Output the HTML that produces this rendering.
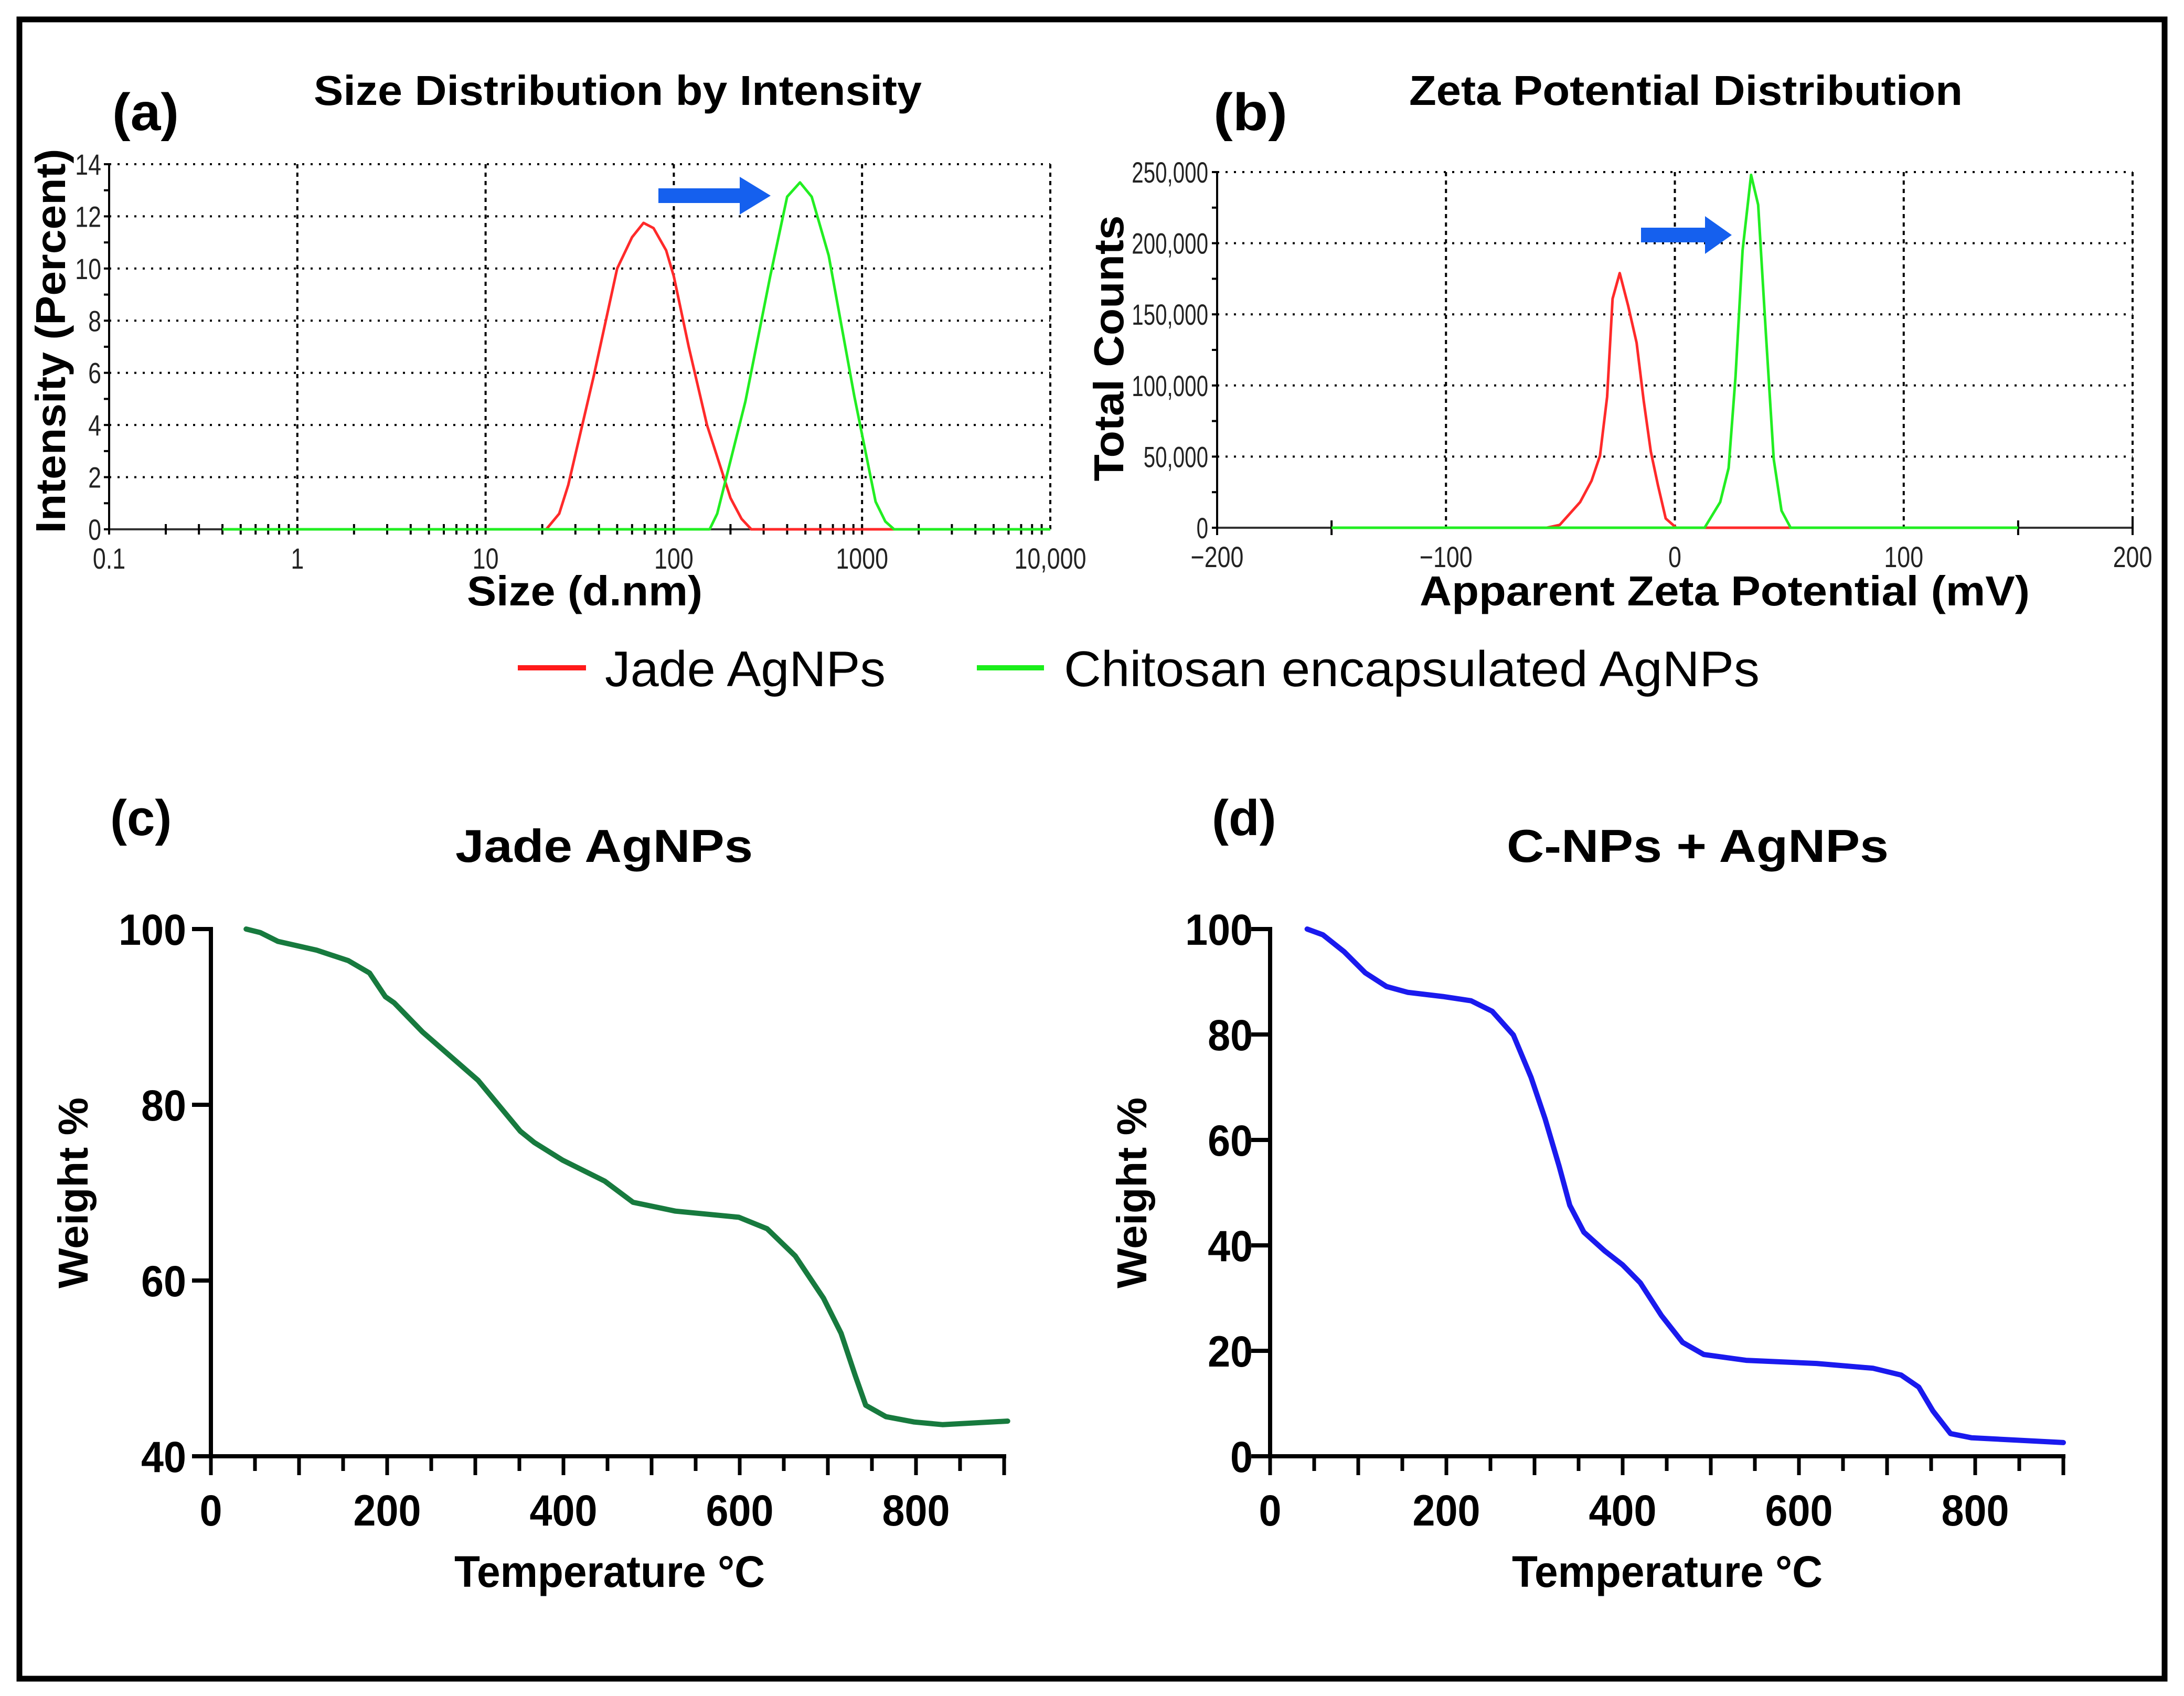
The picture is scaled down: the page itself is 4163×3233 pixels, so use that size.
<!DOCTYPE html>
<html><head><meta charset="utf-8"><style>
html,body{margin:0;padding:0;background:#fff;}
svg{display:block;}
text{font-family:"Liberation Sans",Arial,sans-serif;}
</style></head><body>
<svg id="fig" xmlns="http://www.w3.org/2000/svg" width="4163" height="3233" viewBox="0 0 4163 3233">
<rect x="0" y="0" width="4163" height="3233" fill="#fff"/>
<rect x="37" y="37" width="4089" height="3163" fill="none" stroke="#000" stroke-width="11"/>
<g id="pa"></g>
<g id="pb"></g>
<g id="pc"></g>
<g id="pd"></g>
<g>
<g>
<line x1="987" y1="1273" x2="1117" y2="1273" stroke="#ff1a1a" stroke-width="10"/>
<text x="1153" y="1308" font-size="96" textLength="535" lengthAdjust="spacingAndGlyphs">Jade AgNPs</text>
</g>
<g>
<line x1="1862" y1="1273" x2="1990" y2="1273" stroke="#1aee1a" stroke-width="10"/>
<text x="2028" y="1308" font-size="96" textLength="1326" lengthAdjust="spacingAndGlyphs">Chitosan encapsulated AgNPs</text>
</g>
</g>
</svg>
<script>
// ---- Panel (a) data: size (d.nm) vs intensity (%) ----
const aXTicks = [0.1, 1, 10, 100, 1000, 10000];
const aXTickLabels = ["0.1", "1", "10", "100", "1000", "10,000"];
const aYTicks = [0, 2, 4, 6, 8, 10, 12, 14];
const aJadeSize = [0.4, 21, 24.6, 27.5, 37.6, 50, 60, 69, 78, 91, 100, 120, 150, 200, 229, 258, 1500];
const aJadeInt  = [0, 0, 0.6, 1.7, 5.9, 10.0, 11.2, 11.75, 11.55, 10.7, 9.7, 7.0, 4.0, 1.2, 0.4, 0, 0];
const aChitSize = [0.4, 155, 170, 240, 325, 400, 468, 540, 665, 910, 1180, 1330, 1480, 10000];
const aChitInt  = [0, 0, 0.6, 4.9, 9.7, 12.75, 13.3, 12.75, 10.5, 5.1, 1.06, 0.3, 0, 0];
// ---- Panel (b) data: zeta potential (mV) vs total counts ----
const bXTicks = [-200, -100, 0, 100, 200];
const bXTickLabels = ["\u2212200", "\u2212100", "0", "100", "200"];
const bYTicks = [0, 50000, 100000, 150000, 200000, 250000];
const bYTickLabels = ["0", "50,000", "100,000", "150,000", "200,000", "250,000"];
const bJadeMv = [-150, -55.9, -50.3, -41.4, -36.4, -32.7, -29.6, -27.2, -24.1, -20.4, -16.7, -13.6, -10.5, -7.4, -4, 0.6, 52];
const bJadeCt = [0, 0, 2000, 18000, 33000, 50600, 92000, 161000, 179000, 156000, 130000, 89000, 53500, 30000, 6500, 0, 0];
const bChitMv = [-150, 13, 19.8, 23.5, 26.5, 29.6, 33.3, 36.4, 39.8, 43.2, 46.6, 50.6, 150];
const bChitCt = [0, 0, 18000, 42000, 106000, 195000, 248000, 227000, 136000, 48000, 12000, 0, 0];
// ---- Panel (c) data: TGA Jade AgNPs ----
const tXTicks = [0, 200, 400, 600, 800];
const cYTicks = [40, 60, 80, 100];
const cTemp = [40, 56, 76, 120, 156, 180, 198, 208, 240, 303, 351, 367, 399, 447, 479, 527, 599, 631, 663, 695, 715, 731, 743, 766, 798, 830, 904];
const cWeight = [100, 99.6, 98.6, 97.6, 96.4, 95, 92.3, 91.6, 88.3, 82.8, 77, 75.7, 73.7, 71.3, 68.9, 67.9, 67.2, 65.9, 62.8, 58, 54, 49.2, 45.8, 44.5, 43.9, 43.6, 44];
// ---- Panel (d) data: TGA C-NPs + AgNPs ----
const dYTicks = [0, 20, 40, 60, 80, 100];
const dTemp = [42, 60, 84, 108, 132, 156, 196, 228, 252, 276, 296, 312, 328, 340, 356, 380, 400, 420, 444, 468, 492, 540, 620, 684, 716, 736, 752, 772, 796, 900];
const dWeight = [100, 98.9, 95.7, 91.7, 89.1, 88, 87.2, 86.4, 84.4, 79.9, 71.9, 64, 55, 47.6, 42.5, 38.9, 36.3, 32.9, 26.7, 21.6, 19.3, 18.2, 17.6, 16.7, 15.4, 13.1, 8.6, 4.3, 3.5, 2.6];

const NS = "http://www.w3.org/2000/svg";
function mk(parent, tag, attrs) {
  const e = document.createElementNS(NS, tag);
  for (const k in attrs) e.setAttribute(k, attrs[k]);
  parent.appendChild(e);
  return e;
}
function txt(parent, s, attrs) { const e = mk(parent, "text", attrs); e.textContent = s; return e; }
function pathFrom(xs, ys, fx, fy) {
  return xs.map((v, i) => (i ? "L" : "M") + fx(v).toFixed(1) + " " + fy(ys[i]).toFixed(1)).join(" ");
}
function sx(x, k) { return `translate(${x} 0) scale(${k} 1) translate(${-x} 0)`; }

// ================= Panel A =================
(function () {
  const g = document.getElementById("pa");
  const L = 208, R = 2002, T = 313, B = 1009;
  const xs = v => L + (Math.log10(v) + 1) / 5 * (R - L);
  const ys = v => B - v / 14 * (B - T);
  let e;
  e = txt(g, "(a)", {x: 214, y: 248, "font-size": 100, "font-weight": "bold", textLength: 127, lengthAdjust: "spacingAndGlyphs"});
   
  e = txt(g, "Size Distribution by Intensity", {x: 598, y: 200, "font-size": 80, "font-weight": "bold", textLength: 1159, lengthAdjust: "spacingAndGlyphs"});
   
  aYTicks.forEach(v => {
    if (v === 0) return;
    e = mk(g, "line", {x1: L, x2: R, y1: ys(v), y2: ys(v), stroke: "#000", "stroke-width": 4, "stroke-dasharray": "4 12"});
     
  });
  aXTicks.forEach(v => {
    if (v === 0.1) return;
    e = mk(g, "line", {x1: xs(v), x2: xs(v), y1: T, y2: B, stroke: "#000", "stroke-width": 4, "stroke-dasharray": "8 8"});
     
  });
  e = mk(g, "line", {x1: L, x2: L, y1: T, y2: B, stroke: "#000", "stroke-width": 4});
   
  e = mk(g, "line", {x1: L, x2: R, y1: B, y2: B, stroke: "#333", "stroke-width": 4});
   
  for (let v = 1; v < 14; v += 2) {
    e = mk(g, "line", {x1: L - 10, x2: L + 2, y1: ys(v), y2: ys(v), stroke: "#000", "stroke-width": 4});
     
  }
  aYTicks.forEach(v => {
    e = mk(g, "line", {x1: L - 10, x2: L + 2, y1: ys(v), y2: ys(v), stroke: "#000", "stroke-width": 4});
     
    e = txt(g, String(v), {x: 193, y: ys(v) + 20, "font-size": 56, "text-anchor": "end", fill: "#222", transform: sx(193, 0.8)});
     
  });
  for (let d = -1; d < 4; d++) {
    for (let m = 1; m <= 9; m++) {
      const v = m * Math.pow(10, d);
      e = mk(g, "line", {x1: xs(v), x2: xs(v), y1: B - 10, y2: B + 10, stroke: "#000", "stroke-width": 4});
       
    }
  }
  aXTicks.forEach((v, i) => {
    const x = xs(v);
    e = txt(g, aXTickLabels[i], {x: x, y: 1084, "font-size": 56, "text-anchor": "middle", fill: "#222", transform: sx(x, 0.8)});
     
  });
  e = txt(g, "Size (d.nm)", {x: 890, y: 1154, "font-size": 80, "font-weight": "bold", textLength: 449, lengthAdjust: "spacingAndGlyphs"});
   
  e = txt(g, "Intensity (Percent)", {x: 0, y: 0, "font-size": 80, "font-weight": "bold", "text-anchor": "middle", textLength: 733, lengthAdjust: "spacingAndGlyphs", transform: "translate(124 650) rotate(-90)"});
   
  e = mk(g, "path", {d: pathFrom(aJadeSize, aJadeInt, xs, ys), fill: "none", stroke: "#ff2a2a", "stroke-width": 5, "stroke-linejoin": "round"});
   
  e = mk(g, "path", {d: pathFrom(aChitSize, aChitInt, xs, ys), fill: "none", stroke: "#22ee22", "stroke-width": 5, "stroke-linejoin": "round"});
   
  e = mk(g, "polygon", {points: "1255,359 1410,359 1410,337 1469,373 1410,409 1410,387 1255,387", fill: "#1560ee"});
   
})();

// ================= Panel B =================
(function () {
  const g = document.getElementById("pb");
  const L = 2320, R = 4065, T = 328, B = 1006;
  const xs = v => L + (v + 200) / 400 * (R - L);
  const ys = v => B - v / 250000 * (B - T);
  let e;
  e = txt(g, "(b)", {x: 2313, y: 248, "font-size": 100, "font-weight": "bold", textLength: 141, lengthAdjust: "spacingAndGlyphs"});
   
  e = txt(g, "Zeta Potential Distribution", {x: 2686, y: 200, "font-size": 80, "font-weight": "bold", textLength: 1055, lengthAdjust: "spacingAndGlyphs"});
   
  bYTicks.forEach(v => {
    if (v === 0) return;
    e = mk(g, "line", {x1: L, x2: R, y1: ys(v), y2: ys(v), stroke: "#000", "stroke-width": 4, "stroke-dasharray": "4 12"});
     
  });
  bXTicks.forEach(v => {
    if (v === -200) return;
    e = mk(g, "line", {x1: xs(v), x2: xs(v), y1: T, y2: B, stroke: "#000", "stroke-width": 4, "stroke-dasharray": "8 8"});
     
  });
  e = mk(g, "line", {x1: L, x2: L, y1: T, y2: B, stroke: "#000", "stroke-width": 4});
   
  e = mk(g, "line", {x1: L, x2: R, y1: B, y2: B, stroke: "#333", "stroke-width": 4});
   
  for (let v = 25000; v < 250000; v += 50000) {
    e = mk(g, "line", {x1: L - 10, x2: L + 2, y1: ys(v), y2: ys(v), stroke: "#000", "stroke-width": 4});
     
  }
  bYTicks.forEach((v, i) => {
    e = mk(g, "line", {x1: L - 10, x2: L + 2, y1: ys(v), y2: ys(v), stroke: "#000", "stroke-width": 4});
     
    e = txt(g, bYTickLabels[i], {x: 2303, y: ys(v) + 20, "font-size": 56, "text-anchor": "end", fill: "#222", transform: sx(2303, 0.72)});
     
  });
  [-200, -150, 150, 200].forEach(v => {
    e = mk(g, "line", {x1: xs(v), x2: xs(v), y1: B - 14, y2: B + 14, stroke: "#000", "stroke-width": 4});
     
  });
  bXTicks.forEach((v, i) => {
    const x = xs(v);
    e = txt(g, bXTickLabels[i], {x: x, y: 1081, "font-size": 56, "text-anchor": "middle", fill: "#222", transform: sx(x, 0.8)});
     
  });
  e = txt(g, "Apparent Zeta Potential (mV)", {x: 2706, y: 1154, "font-size": 80, "font-weight": "bold", textLength: 1163, lengthAdjust: "spacingAndGlyphs"});
   
  e = txt(g, "Total Counts", {x: 0, y: 0, "font-size": 80, "font-weight": "bold", "text-anchor": "middle", textLength: 507, lengthAdjust: "spacingAndGlyphs", transform: "translate(2141 664) rotate(-90)"});
   
  e = mk(g, "path", {d: pathFrom(bJadeMv, bJadeCt, xs, ys), fill: "none", stroke: "#ff2a2a", "stroke-width": 5, "stroke-linejoin": "round"});
   
  e = mk(g, "path", {d: pathFrom(bChitMv, bChitCt, xs, ys), fill: "none", stroke: "#22ee22", "stroke-width": 5, "stroke-linejoin": "round"});
   
  e = mk(g, "polygon", {points: "3128,434 3250,434 3250,412 3301,448 3250,484 3250,462 3128,462", fill: "#1560ee"});
   
})();

// ================= TGA panels =================
function tga(id, o) {
  const g = document.getElementById(id);
  const {L, B, T, ymin, ymax, yTicks, temps, weights, color, label, title, titleX, titleW, labelX, ylabX, tickRight, xtitleX} = o;
  const xs = v => L + v * 1.68;
  const ys = v => B - (v - ymin) / (ymax - ymin) * (B - T);
  let e;
  e = txt(g, label, {x: labelX, y: 1592, "font-size": 96, "font-weight": "bold"});
   
  e = txt(g, title, {x: titleX, y: 1643, "font-size": 88, "font-weight": "bold", textLength: titleW, lengthAdjust: "spacingAndGlyphs"});
   
  e = mk(g, "line", {x1: L, x2: L, y1: T - 4, y2: B + 4, stroke: "#000", "stroke-width": 8});
   
  e = mk(g, "line", {x1: L - 4, x2: xs(900) + 4, y1: B, y2: B, stroke: "#000", "stroke-width": 8});
   
  yTicks.forEach(v => {
    e = mk(g, "line", {x1: L - 36, x2: L, y1: ys(v), y2: ys(v), stroke: "#000", "stroke-width": 8});
     
    e = txt(g, String(v), {x: tickRight, y: ys(v) + 30, "font-size": 84, "font-weight": "bold", "text-anchor": "end", transform: sx(tickRight, 0.92)});
     
  });
  for (let t = 0; t <= 900; t += 50) {
    e = mk(g, "line", {x1: xs(t), x2: xs(t), y1: B, y2: B + (t % 100 === 0 ? 36 : 28), stroke: "#000", "stroke-width": 7});
     
  }
  tXTicks.forEach(v => {
    const x = xs(v);
    e = txt(g, String(v), {x: x, y: 2908, "font-size": 84, "font-weight": "bold", "text-anchor": "middle", transform: sx(x, 0.92)});
     
  });
  e = txt(g, "Temperature \u00B0C", {x: xtitleX, y: 3025, "font-size": 84, "font-weight": "bold", textLength: 592, lengthAdjust: "spacingAndGlyphs"});
   
  e = txt(g, "Weight %", {x: 0, y: 0, "font-size": 80, "font-weight": "bold", "text-anchor": "middle", textLength: 364, lengthAdjust: "spacingAndGlyphs", transform: `translate(${ylabX} 2274) rotate(-90)`});
   
  e = mk(g, "path", {d: pathFrom(temps, weights, xs, ys), fill: "none", stroke: color, "stroke-width": 10, "stroke-linejoin": "round", "stroke-linecap": "round"});
   
}
tga("pc", {L: 402, B: 2776, T: 1771, ymin: 40, ymax: 100, yTicks: cYTicks, temps: cTemp, weights: cWeight, color: "#177a3e", label: "(c)", title: "Jade AgNPs", titleX: 868, titleW: 567, labelX: 210, ylabX: 167, tickRight: 355, xtitleX: 866});
tga("pd", {L: 2421, B: 2776, T: 1771, ymin: 0, ymax: 100, yTicks: dYTicks, temps: dTemp, weights: dWeight, color: "#1a1aee", label: "(d)", title: "C-NPs + AgNPs", titleX: 2872, titleW: 728, labelX: 2310, ylabX: 2185, tickRight: 2388, xtitleX: 2882});
</script>
</body></html>
